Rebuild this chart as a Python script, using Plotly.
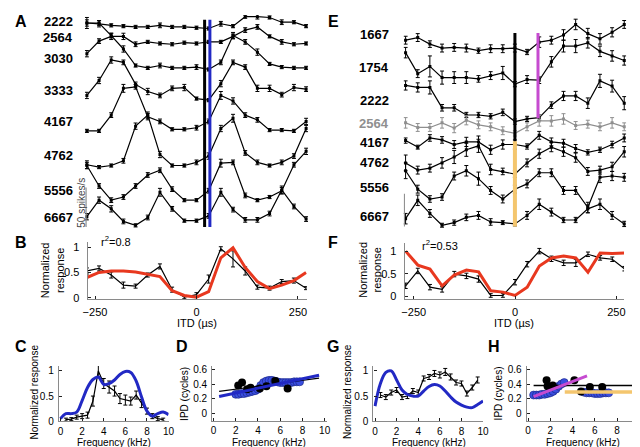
import plotly.graph_objects as go

W, H = 640, 447

# ---------------- data ----------------
# ITD sampling (µs) used in panels A, B, E, F
itd = [-270, -240, -210, -180, -150, -120, -90, -60, -30, 0, 30, 60, 90, 120, 150, 180, 210, 240, 270]

# Panel A: rate (spikes/s) vs ITD for each tone frequency (Hz), stacked by offset
freq_A = ['2222', '2564', '3030', '3333', '4167', '4762', '5556', '6667']
offset_A = [252, 219, 199, 159, 120, 76, 32, 0]
rate_A_2222 = [9, 8, 6, 5, 4, 4, 6, 4, 4, 3, 2, 8, 5, 17, 17, 16, 10, 10, 5]
rate_A_2564 = [3, 19, 25, 25, 15, 18, 16, 15, 17, 16, 18, 18, 25, 33, 37, 25, 18, 15, 16]
rate_A_3030 = [62, 62, 46, 29, 8, 5, 8, 5, 5, 6, 3, 12, 46, 38, 25, 10, 6, 5, 5]
rate_A_3333 = [10, 29, 55, 52, 24, 15, 10, 19, 20, 6, 4, 25, 52, 46, 19, 19, 11, 20, 18]
rate_A_4167 = [4, 4, 24, 58, 60, 22, 16, 6, 6, 8, 16, 49, 42, 24, 18, 5, 5, 4, 16]
rate_A_4762 = [5, 2, 4, 10, 54, 68, 18, 4, 4, 8, 16, 51, 64, 20, 8, 4, 8, 16, 51]
rate_A_5556 = [48, 22, 4, 8, 22, 36, 42, 18, 4, 4, 16, 51, 52, 10, 4, 8, 16, 49, 66]
rate_A_6667 = [15, 36, 25, 9, 4, 14, 46, 25, 10, 10, 16, 46, 24, 11, 11, 19, 49, 28, 12]
err_A_2222 = [7, 4, 2, 2, 2, 2, 3, 2, 2, 2, 2, 3, 2, 2, 3, 2, 3, 2, 2]
err_A_2564 = [4, 3, 4, 4, 3, 2, 2, 2, 2, 2, 2, 2, 3, 3, 3, 2, 3, 2, 2]
err_A_3030 = [4, 3, 3, 4, 2, 2, 3, 2, 2, 3, 2, 3, 4, 3, 4, 2, 2, 2, 2]
err_A_3333 = [4, 4, 4, 3, 3, 4, 3, 3, 4, 2, 2, 4, 3, 3, 4, 4, 3, 4, 3]
err_A_4167 = [2, 2, 3, 5, 3, 4, 3, 2, 2, 3, 3, 5, 4, 3, 3, 2, 2, 2, 4]
err_A_4762 = [5, 2, 2, 3, 4, 4, 4, 2, 2, 3, 4, 4, 5, 3, 3, 2, 3, 3, 4]
err_A_5556 = [4, 3, 3, 3, 3, 3, 3, 3, 2, 2, 3, 5, 3, 3, 2, 2, 4, 3, 4]
err_A_6667 = [4, 4, 4, 3, 2, 3, 5, 3, 2, 2, 3, 5, 3, 3, 3, 3, 5, 3, 3]
itd_lines_A = [20, 33]          # black, blue

# Panel B: normalized response vs ITD, data (black) and model (red)
resp_B = [0.53, 0.58, 0.45, 0.25, 0.23, 0.45, 0.62, 0.16, 0.01, 0.06, 0.37, 0.97, 0.77, 0.53, 0.21, 0.19, 0.32, 0.34, 0.19]
err_B = [0.06, 0.05, 0.06, 0.06, 0.04, 0.04, 0.05, 0.05, 0.03, 0.04, 0.08, 0.04, 0.16, 0.08, 0.04, 0.04, 0.04, 0.05, 0.03]
model_B = [0.40, 0.50, 0.53, 0.53, 0.51, 0.47, 0.42, 0.14, 0.045, 0.01, 0.12, 0.79, 0.99, 0.60, 0.32, 0.18, 0.25, 0.34, 0.50]

# Panel C: normalized response vs frequency (kHz)
freq_C = [0.5, 1.0, 1.5, 2.0, 2.5, 3.0, 3.5, 4.0, 4.5, 5.0, 5.5, 6.0, 6.5, 7.0, 7.5, 8.0, 8.5, 9.0, 9.5]
resp_C = [0.03, 0.04, 0.08, 0.10, 0.12, 0.40, 1.00, 0.75, 0.68, 0.60, 0.45, 0.42, 0.40, 0.52, 0.35, 0.20, 0.10, 0.05, 0.03]
err_C = [0.03, 0.03, 0.04, 0.05, 0.06, 0.10, 0.12, 0.10, 0.12, 0.10, 0.10, 0.10, 0.08, 0.08, 0.08, 0.06, 0.05, 0.04, 0.03]
model_f_C = [0, 0.5, 1.0, 1.5, 2.0, 2.5, 3.0, 3.5, 4.0, 4.5, 5.0, 5.5, 6.0, 6.5, 7.0, 7.5, 8.0, 8.5, 9.0, 9.5, 10.0]
model_C = [0.05, 0.15, 0.15, 0.18, 0.41, 0.67, 0.83, 0.88, 0.73, 0.75, 0.82, 0.93, 0.99, 0.97, 0.80, 0.48, 0.20, 0.10, 0.15, 0.18, 0.13]

# Panel D: IPD (cycles) vs frequency (kHz)
freq_D_data = [2.222, 2.564, 3.030, 3.333, 4.167, 4.762, 5.556, 6.667]
ipd_D_data = [0.38, 0.42, 0.33, 0.35, 0.34, 0.37, 0.44, 0.34]
freq_D_model = [2.0, 2.25, 2.5, 2.75, 3.0, 3.25, 3.5, 3.75, 4.0, 4.25, 4.5, 4.75, 5.0, 5.25, 5.5, 5.75, 6.0, 6.25, 6.5, 6.75, 7.0, 7.25, 7.5, 7.75]
ipd_D_model = [0.26, 0.26, 0.27, 0.27, 0.28, 0.29, 0.30, 0.31, 0.33, 0.38, 0.42, 0.44, 0.45, 0.45, 0.44, 0.43, 0.42, 0.42, 0.42, 0.42, 0.42, 0.43, 0.43, 0.43]
fit_f_D = [0.5, 9.5]
fit_D_data = [0.30, 0.48]
fit_D_model = [0.23, 0.52]

# Panel E: rate (spikes/s) vs ITD, second neuron
freq_E = ['1667', '1754', '2222', '2564', '4167', '4762', '5556', '6667']
offset_E = [265, 216, 159, 141, 112, 78, 28, 1]
rate_E_1667 = [22, 26, 16, 10, 11, 10, 6, 9, 9, 10, 4, 19, 22, 30, 46, 32, 24, 34, 46]
rate_E_1754 = [52, 20, 31, 14, 14, 14, 12, 17, 21, 4, 11, 10, 38, 62, 62, 67, 54, 47, 40]
rate_E_2222 = [59, 56, 56, 25, 25, 14, 14, 12, 18, 4, 8, 10, 29, 43, 43, 32, 66, 58, 32]
rate_E_2564 = [20, 13, 13, 20, 12, 24, 17, 14, 8, 4, 14, 23, 23, 26, 16, 18, 14, 20, 14]
rate_E_4167 = [22, 12, 26, 23, 16, 20, 20, 8, 16, 16, 13, 30, 20, 18, 10, 4, 8, 16, 26]
rate_E_4762 = [22, 11, 14, 22, 31, 42, 48, 12, 9, 5, 22, 36, 46, 39, 30, 9, 11, 16, 39]
rate_E_5556 = [60, 32, 17, 20, 52, 60, 48, 30, 17, 32, 40, 57, 57, 30, 30, 4, 50, 52, 50]
rate_E_6667 = [14, 42, 22, 4, 8, 16, 19, 9, 8, 6, 19, 36, 24, 12, 12, 29, 36, 19, 6]
err_E_1667 = [6, 6, 5, 6, 6, 6, 4, 6, 6, 6, 4, 8, 6, 8, 8, 8, 8, 7, 6]
err_E_1754 = [8, 6, 16, 10, 9, 9, 5, 6, 10, 4, 6, 5, 8, 9, 10, 8, 8, 8, 7]
err_E_2222 = [7, 7, 10, 5, 5, 4, 4, 4, 5, 4, 4, 4, 5, 7, 7, 8, 10, 9, 10]
err_E_2564 = [8, 6, 6, 8, 7, 7, 6, 6, 6, 4, 6, 8, 8, 8, 6, 6, 6, 8, 6]
err_E_4167 = [4, 3, 5, 5, 6, 7, 9, 7, 7, 7, 4, 6, 6, 6, 6, 4, 4, 5, 6]
err_E_4762 = [12, 6, 6, 8, 10, 10, 10, 8, 5, 5, 6, 7, 7, 7, 7, 6, 6, 7, 8]
err_E_5556 = [12, 6, 5, 5, 6, 8, 10, 6, 6, 6, 6, 6, 6, 6, 6, 8, 8, 7, 6]
err_E_6667 = [8, 8, 6, 3, 4, 5, 6, 5, 3, 3, 6, 8, 6, 4, 4, 6, 8, 6, 4]
itd_lines_E = [0, 57]           # black/yellow, magenta

# Panel F
resp_F = [0.23, 0.56, 0.20, 0.15, 0.49, 0.45, 0.38, 0.015, 0.015, 0.31, 0.71, 1.00, 0.83, 0.74, 0.74, 0.93, 0.85, 0.82, 0.61]
err_F = [0.06, 0.06, 0.06, 0.06, 0.06, 0.06, 0.07, 0.04, 0.04, 0.06, 0.06, 0.06, 0.06, 0.06, 0.08, 0.05, 0.05, 0.05, 0.05]
model_F = [1.00, 0.69, 0.60, 0.23, 0.47, 0.58, 0.54, 0.12, 0.09, 0.015, 0.20, 0.67, 0.85, 0.89, 0.85, 0.53, 0.96, 0.95, 0.96]

# Panel G
freq_G = [0.5, 1.0, 1.5, 2.0, 2.5, 3.0, 3.5, 4.0, 4.5, 5.0, 5.5, 6.0, 6.5, 7.0, 7.5, 8.0, 8.5, 9.0, 9.5]
resp_G = [0.52, 0.48, 0.57, 0.62, 0.48, 0.50, 0.60, 0.57, 0.85, 0.88, 0.95, 0.92, 0.98, 0.88, 0.77, 0.75, 0.55, 0.67, 0.82]
err_G = [0.05, 0.05, 0.05, 0.05, 0.05, 0.05, 0.05, 0.05, 0.05, 0.05, 0.06, 0.06, 0.07, 0.06, 0.05, 0.05, 0.05, 0.05, 0.06]
model_f_G = [0, 0.5, 1.0, 1.5, 2.0, 2.5, 3.0, 3.5, 4.0, 4.5, 5.0, 5.5, 6.0, 6.5, 7.0, 7.5, 8.0, 8.5, 9.0, 9.5, 10.0]
model_G = [0.30, 0.75, 0.97, 1.00, 0.82, 0.62, 0.53, 0.50, 0.50, 0.60, 0.69, 0.73, 0.70, 0.60, 0.48, 0.38, 0.32, 0.28, 0.27, 0.33, 0.40]

# Panel H
freq_H_data = [1.667, 1.754, 2.222, 4.167, 4.762, 5.556, 6.667]
ipd_H_data = [0.45, 0.37, 0.38, 0.45, 0.30, 0.36, 0.36]
freq_H_model = [0.5, 0.75, 1.0, 1.25, 1.5, 1.75, 2.0, 2.25, 2.5, 2.75, 3.0, 3.25,
                5.0, 5.25, 5.5, 5.75, 6.0, 6.25, 6.5, 6.75, 7.0, 7.25]
ipd_H_model = [0.25, 0.25, 0.25, 0.26, 0.26, 0.27, 0.28, 0.30, 0.33, 0.37, 0.40, 0.42,
               0.29, 0.28, 0.28, 0.28, 0.27, 0.27, 0.27, 0.28, 0.28, 0.28]
fit_f_H_low = [0.5, 5.3]
fit_H_low = [0.23, 0.51]
fit_f_H_data = [0.5, 9.5]
fit_H_data = [0.38, 0.38]
fit_f_H_high = [3.3, 9.5]
fit_H_high = [0.29, 0.29]

# ---------------- style ----------------
FONT = 'Liberation Sans, Arial, Helvetica, sans-serif'
BLUE = '#2229c4'
RED = '#e8381f'
MAGENTA = '#c64bd0'
YELLOW = '#f4c66e'
GREY = '#8f8f8f'
AXC = '#8a8a8a'


def xdom(x0, x1):
    return [x0 / W, x1 / W]


def ydom(y0, y1):
    # pixel rows (top, bottom) -> paper domain
    return [1 - y1 / H, 1 - y0 / H]


fig = go.Figure()


def add_rows(rows, errs, offsets, ax, colors):
    for vals, err, off, col in zip(rows, errs, offsets, colors):
        fig.add_trace(go.Scatter(
            x=itd, y=[off + v for v in vals],
            mode='lines+markers',
            line=dict(color=col, width=1.2),
            marker=dict(size=3, color=col, symbol='square'),
            error_y=dict(type='data', array=err, color=col, thickness=1, width=2),
            xaxis='x' + ax, yaxis='y' + ax, hoverinfo='skip'))


# A
rows_A = [rate_A_2222, rate_A_2564, rate_A_3030, rate_A_3333, rate_A_4167, rate_A_4762, rate_A_5556, rate_A_6667]
errs_A = [err_A_2222, err_A_2564, err_A_3030, err_A_3333, err_A_4167, err_A_4762, err_A_5556, err_A_6667]
add_rows(rows_A, errs_A, offset_A, '', ['black'] * 8)
for xv, col in zip(itd_lines_A, ['black', BLUE]):
    fig.add_trace(go.Scatter(x=[xv, xv], y=[2, 265], mode='lines',
                             line=dict(color=col, width=3), xaxis='x', yaxis='y'))

# E
rows_E = [rate_E_1667, rate_E_1754, rate_E_2222, rate_E_2564, rate_E_4167, rate_E_4762, rate_E_5556, rate_E_6667]
errs_E = [err_E_1667, err_E_1754, err_E_2222, err_E_2564, err_E_4167, err_E_4762, err_E_5556, err_E_6667]
cols_E = ['black', 'black', 'black', GREY, 'black', 'black', 'black', 'black']
add_rows(rows_E, errs_E, offset_E, '5', cols_E)
fig.add_trace(go.Scatter(x=[itd_lines_E[0]] * 2, y=[133, 298], mode='lines',
                         line=dict(color='black', width=3), xaxis='x5', yaxis='y5'))
fig.add_trace(go.Scatter(x=[itd_lines_E[0]] * 2, y=[3, 133], mode='lines',
                         line=dict(color=YELLOW, width=4), xaxis='x5', yaxis='y5'))
fig.add_trace(go.Scatter(x=[itd_lines_E[1]] * 2, y=[168, 298], mode='lines',
                         line=dict(color=MAGENTA, width=3), xaxis='x5', yaxis='y5'))

# B and F
for resp, err, model, ax in [(resp_B, err_B, model_B, '2'), (resp_F, err_F, model_F, '6')]:
    fig.add_trace(go.Scatter(x=itd, y=resp, mode='lines', line=dict(color='black', width=1.2),
                             error_y=dict(type='data', array=err, color='black', thickness=1, width=2),
                             xaxis='x' + ax, yaxis='y' + ax))
    fig.add_trace(go.Scatter(x=itd, y=model, mode='lines', line=dict(color=RED, width=3),
                             xaxis='x' + ax, yaxis='y' + ax))

# C and G
for f, resp, err, mf, model, ax in [(freq_C, resp_C, err_C, model_f_C, model_C, '3'),
                                    (freq_G, resp_G, err_G, model_f_G, model_G, '7')]:
    fig.add_trace(go.Scatter(x=f, y=resp, mode='lines', line=dict(color='black', width=1.2),
                             error_y=dict(type='data', array=err, color='black', thickness=1, width=2),
                             xaxis='x' + ax, yaxis='y' + ax))
    fig.add_trace(go.Scatter(x=mf, y=model, mode='lines', line=dict(color=BLUE, width=3, shape='spline'),
                             xaxis='x' + ax, yaxis='y' + ax))

# D
fig.add_trace(go.Scatter(x=freq_D_model, y=ipd_D_model, mode='markers',
                         marker=dict(size=8, color='#3a4ee0', line=dict(color='#1a237e', width=0.6)),
                         xaxis='x4', yaxis='y4'))
fig.add_trace(go.Scatter(x=freq_D_data, y=ipd_D_data, mode='markers',
                         marker=dict(size=8, color='black'), xaxis='x4', yaxis='y4'))
fig.add_trace(go.Scatter(x=fit_f_D, y=fit_D_data, mode='lines', line=dict(color='black', width=1.2),
                         xaxis='x4', yaxis='y4'))
fig.add_trace(go.Scatter(x=fit_f_D, y=fit_D_model, mode='lines', line=dict(color=BLUE, width=3),
                         xaxis='x4', yaxis='y4'))

# H
fig.add_trace(go.Scatter(x=freq_H_model, y=ipd_H_model, mode='markers',
                         marker=dict(size=8, color='#3a4ee0', line=dict(color='#1a237e', width=0.6)),
                         xaxis='x8', yaxis='y8'))
fig.add_trace(go.Scatter(x=freq_H_data, y=ipd_H_data, mode='markers',
                         marker=dict(size=8, color='black'), xaxis='x8', yaxis='y8'))
fig.add_trace(go.Scatter(x=fit_f_H_data, y=fit_H_data, mode='lines', line=dict(color='black', width=1.5),
                         xaxis='x8', yaxis='y8'))
fig.add_trace(go.Scatter(x=fit_f_H_low, y=fit_H_low, mode='lines', line=dict(color=MAGENTA, width=3),
                         xaxis='x8', yaxis='y8'))
fig.add_trace(go.Scatter(x=fit_f_H_high, y=fit_H_high, mode='lines', line=dict(color=YELLOW, width=3.5),
                         xaxis='x8', yaxis='y8'))

# ---------------- axes ----------------
hidden = dict(visible=False, fixedrange=True)


def shown(size, **kw):
    d = dict(showline=True, linecolor=AXC, linewidth=1.3, ticks='inside', ticklen=3,
             tickcolor='#222', tickwidth=1, showgrid=False, zeroline=False,
             tickfont=dict(size=size, color='black', family=FONT), ticklabelstandoff=2)
    d.update(kw)
    return d


FREQ_TICKS = dict(tickvals=[0, 2, 4, 6, 8, 10], ticklabelstandoff=0)

layout_axes = dict(
    xaxis=dict(hidden, domain=xdom(73.1, 300.3), range=[-275, 275], anchor='y'),
    yaxis=dict(hidden, domain=ydom(5, 222), range=[0, 271.25], anchor='x'),
    xaxis5=dict(hidden, domain=xdom(397.4, 624), range=[-275, 275], anchor='y5'),
    yaxis5=dict(hidden, domain=ydom(5, 222), range=[0, 325.5], anchor='x5'),
    xaxis2=shown(11, domain=xdom(76, 299), range=[-268, 272], anchor='y2', tickvals=[-250, 0, 250]),
    yaxis2=shown(11, domain=ydom(235.9, 294.1), range=[-0.035, 1.1], anchor='x2',
                 tickvals=[0, 0.5, 1], ticktext=['0', '0.5', '1'], ticklabelstandoff=5),
    xaxis6=shown(11, domain=xdom(398.7, 621.7), range=[-272, 269], anchor='y6', tickvals=[-250, 0, 250]),
    yaxis6=shown(11, domain=ydom(237.2, 294), range=[-0.072, 1.17], anchor='x6',
                 tickvals=[0, 0.5, 1], ticktext=['0', '0.5', '1'], ticklabelstandoff=5),
    xaxis3=shown(10, domain=xdom(46.7, 158.3), range=[-0.15, 10], anchor='y3', **FREQ_TICKS),
    yaxis3=shown(10, domain=ydom(361.6, 418), range=[-0.006, 1.1], anchor='x3',
                 tickvals=[0, 0.5, 1], ticktext=['0', '0.5', '1']),
    xaxis7=shown(10, domain=xdom(366.7, 478.3), range=[-0.15, 10], anchor='y7', **FREQ_TICKS),
    yaxis7=shown(10, domain=ydom(361.6, 418), range=[-0.006, 1.1], anchor='x7',
                 tickvals=[0, 0.5, 1], ticktext=['0', '0.5', '1']),
    xaxis4=shown(10, domain=xdom(202.7, 319), range=[-0.12, 10.17], anchor='y4', **FREQ_TICKS),
    yaxis4=shown(10, domain=ydom(361.7, 417.3), range=[-0.1, 0.645], anchor='x4',
                 tickvals=[0, 0.2, 0.4, 0.6], ticktext=['0', '0.2', '0.4', '0.6']),
    xaxis8=shown(10, domain=xdom(522.7, 639.5), range=[-0.12, 10.2], anchor='y8', **FREQ_TICKS),
    yaxis8=shown(10, domain=ydom(361.7, 417.3), range=[-0.1, 0.645], anchor='x8',
                 tickvals=[0, 0.2, 0.4, 0.6], ticktext=['0', '0.2', '0.4', '0.6']),
)

# ---------------- annotations ----------------
ann = []


def text(x, y, s, size=11, bold=False, color='black', angle=0, xanchor='center', yanchor='middle'):
    ann.append(dict(x=x / W, y=1 - y / H, xref='paper', yref='paper', text=('<b>%s</b>' % s) if bold else s,
                    showarrow=False, font=dict(size=size, color=color, family=FONT), textangle=angle,
                    xanchor=xanchor, yanchor=yanchor))


for lab, px in zip(['A', 'B', 'C', 'D', 'E', 'F', 'G', 'H'],
                   [(8, 12), (8, 236), (8, 342), (172, 342), (326, 12), (326, 236), (326, 342), (489, 342)]):
    text(px[0], px[1], lab, size=16, bold=True)

for lab, py in zip(freq_A, [12, 28, 49, 82, 113, 148, 183, 211]):
    text(63, py, lab, size=13, bold=True, xanchor='right')
for lab, py in zip(freq_E, [25, 58, 92, 115, 135, 155, 180, 210]):
    text(385, py, lab, size=13, bold=True, xanchor='right', color=GREY if lab == '2564' else 'black')

text(70, 196, '50 spikes/s', size=10, color='#444', angle=-90)
text(88, 235, 'r<sup>2</sup>=0.8', size=11, xanchor='left')
text(414, 239, 'r<sup>2</sup>=0.53', size=11, xanchor='left')
text(40, 264, 'Normalized<br>response', size=11, angle=-90)
text(363, 264, 'Normalized<br>response', size=11, angle=-90)
text(187, 318, 'ITD (µs)', size=11)
text(510, 318, 'ITD (µs)', size=11)
text(22, 388, 'Normalized response', size=10, angle=-90)
text(341, 388, 'Normalized response', size=10, angle=-90)
text(175, 390, 'IPD (cycles)', size=10, angle=-90)
text(494, 390, 'IPD (cycles)', size=10, angle=-90)
for cx in [103, 260, 423, 580]:
    text(cx, 447, 'Frequency (kHz)', size=10, yanchor='bottom')

shapes = [
    dict(type='line', xref='x', yref='y', x0=-272, x1=-272, y0=2, y1=52, line=dict(color=GREY, width=1.2)),
    dict(type='line', xref='x5', yref='y5', x0=-273, x1=-273, y0=3, y1=53, line=dict(color=GREY, width=1.2)),
]

fig.update_layout(
    width=W, height=H, margin=dict(l=0, r=0, t=0, b=0),
    paper_bgcolor='white', plot_bgcolor='white', showlegend=False,
    font=dict(family=FONT, color='black'),
    annotations=ann, shapes=shapes, **layout_axes)

fig.write_html('out.html')
